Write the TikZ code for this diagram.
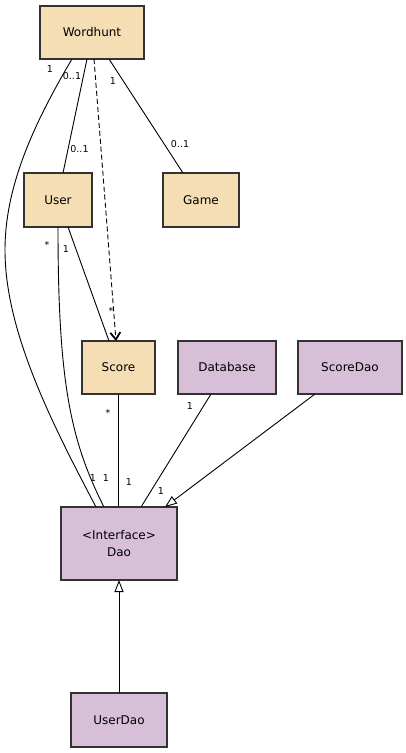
\documentclass[tikz,border=0pt]{standalone}
\usepackage{fontspec}
\setmainfont{DejaVu Sans}
\usetikzlibrary{arrows.meta,calc}
\definecolor{tan}{HTML}{F5DEB3}
\definecolor{lilac}{HTML}{D8BFD8}
\definecolor{edge}{HTML}{333333}
\tikzset{
  cls/.style={draw=edge,line width=1.1pt,inner sep=0pt,outer sep=0pt,font=\fontsize{12}{14}\selectfont,align=center},
  tanbox/.style={cls,fill=tan},
  lilbox/.style={cls,fill=lilac},
  assoc/.style={line width=0.9pt,black},
  lbl/.style={font=\fontsize{9.5}{10}\selectfont,inner sep=0pt},
  inherit/.style={line width=0.9pt,-{Triangle[open,length=12pt,width=9pt,fill=white]}},
  dep/.style={line width=0.9pt,dashed,dash pattern=on 5pt off 3pt,-{Straight Barb[length=7pt,width=10pt,line width=1.8pt]}}
}
\begin{document}
\begin{tikzpicture}[x=1pt,y=-1pt]
\useasboundingbox (0,0) rectangle (406,753);
\node[tanbox,minimum width=104pt,minimum height=53pt] (W) at (92,32.5) {Wordhunt};
\node[tanbox,minimum width=68pt,minimum height=54pt] (U) at (58,200) {User};
\node[tanbox,minimum width=76pt,minimum height=54pt] (G) at (201,200) {Game};
\node[tanbox,minimum width=73pt,minimum height=53pt] (S) at (118.5,367.5) {Score};
\node[lilbox,minimum width=98pt,minimum height=53pt] (DB) at (227,367.5) {Database};
\node[lilbox,minimum width=104pt,minimum height=53pt] (SD) at (350,367.5) {ScoreDao};
\node[lilbox,minimum width=116pt,minimum height=73pt] (D) at (119,543.5) {\textless Interface\textgreater\\[3pt]Dao};
\node[lilbox,minimum width=96pt,minimum height=54pt] (UD) at (119,720) {UserDao};

% associations
\draw[assoc] ($(W.south)+(-5,0)$) -- ($(U.north)+(5,0)$);
\draw[assoc] ($(W.south)+(17,0)$) -- ($(G.north)+(-18,0)$);
\draw[dep] ($(W.south)+(2,0)$) -- ($(S.north)+(-2.5,0)$);
\draw[assoc] ($(W.south)+(-20,0)$) .. controls (30,130) and (5,190) .. (5,250)
   .. controls (5,330) and (50,420) .. ($(D.north)+(-23,0)$);
\draw[assoc] (U.south) .. controls (58,380) and (70,440) .. ($(D.north)+(-15,0)$);
\draw[assoc] ($(U.south)+(10,0)$) -- ($(S.north)+(-9.5,0)$);
\draw[assoc] ($(S.south)+(-0.5,0)$) -- ($(D.north)+(-1,0)$);
\draw[assoc] ($(DB.south)+(-16,0)$) -- ($(D.north)+(22,0)$);
\draw[inherit] ($(SD.south)+(-35,0)$) -- ($(D.north)+(46,0)$);
\draw[inherit] (UD.north) -- (D.south);

% multiplicities
\node[lbl] (m1) at (50,69) {1};
\node[lbl] (m2) at (72,76.5) {0..1};
\node[lbl] (m3) at (79.5,149) {0..1};
\node[lbl] (m4) at (113,81) {1};
\node[lbl] (m5) at (180,144) {0..1};
\node[lbl] (m6) at (47,245) {*};
\node[lbl] (m7) at (66,249) {1};
\node[lbl] (m8) at (111,311) {*};
\node[lbl] (m9) at (108,413) {*};
\node[lbl] (m10) at (129,482) {1};
\node[lbl] (m11) at (93,478) {1};
\node[lbl] (m12) at (106,478) {1};
\node[lbl] (m13) at (190,406) {1};
\node[lbl] (m14) at (161,491) {1};
\end{tikzpicture}
\end{document}
